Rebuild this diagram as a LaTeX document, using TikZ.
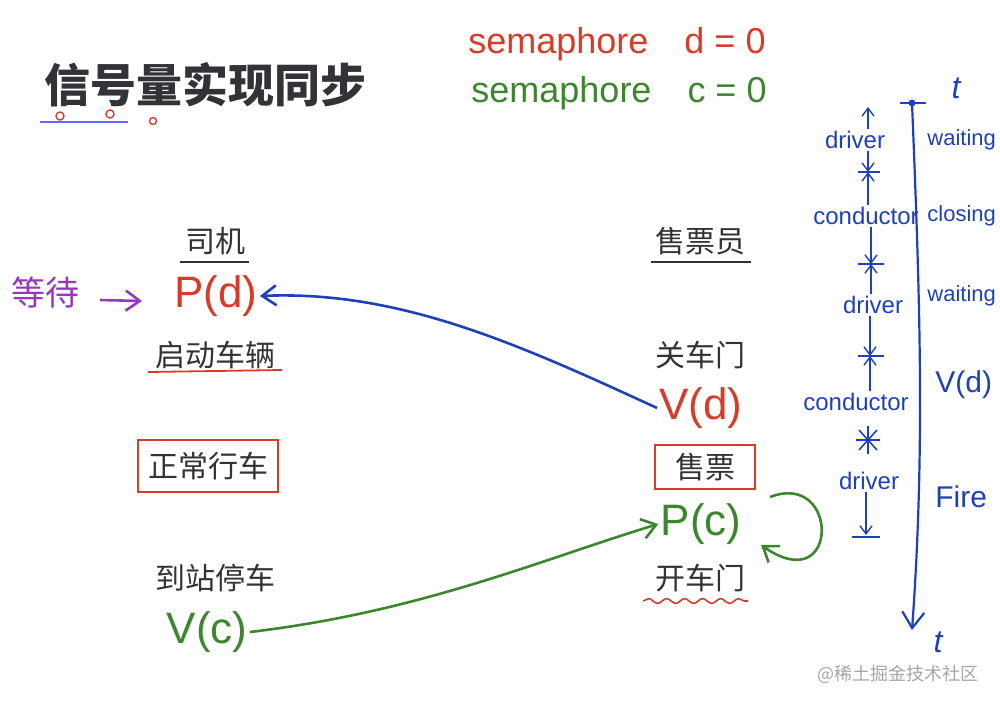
\documentclass[tikz,border=0pt]{standalone}
\usepackage{fontspec}
\setmainfont{Liberation Sans}
\newfontfamily\cjk{Noto Sans CJK SC}
\usetikzlibrary{positioning,arrows.meta,decorations.pathmorphing}

\definecolor{hred}{RGB}{215,60,40}
\definecolor{hgreen}{RGB}{60,135,45}
\definecolor{hblue}{RGB}{30,65,185}
\definecolor{hpurple}{RGB}{150,55,190}
\definecolor{ink}{RGB}{50,50,55}

\tikzset{
  cn/.style={font=\cjk\fontsize{15}{17}\selectfont, text=ink, inner sep=1pt},
  op/.style={font=\fontsize{22}{24}\selectfont, inner sep=1pt},
  sem/.style={font=\fontsize{18}{20}\selectfont, inner sep=1pt},
  tl/.style={font=\fontsize{12}{14}\selectfont, text=hblue, inner sep=1pt},
  tarrow/.style={hblue, line width=0.7pt, -{Straight Barb[length=4pt,width=6pt]}},
  tick/.style={hblue, line width=0.8pt},
  hand/.style={line width=1.3pt, -{Straight Barb[length=7pt,width=10pt]}},
}

\begin{document}
\begin{tikzpicture}[x=0.5pt,y=-0.5pt]
  \useasboundingbox (0,0) rectangle (1000,702);

  % title
  \node[font=\cjk\bfseries\fontsize{23}{26}\selectfont, text=ink] (title) at (205,85) {信号量实现同步};
  \draw[blue!60, line width=1pt] (40,122) -- (128,122);
  \draw[hred, line width=0.7pt] (60,116) circle (4) (110,114) circle (4) (153,121) circle (3.5);

  % semaphores
  \node[sem, text=hred] (semd) at (617,44) {semaphore\quad d = 0};
  \node[sem, text=hgreen] (semc) at (619,93) {semaphore\quad c = 0};

  % driver
  \node[cn] (driver) at (215,241) {司机};
  \draw[ink, line width=0.8pt] (180,262) -- (249,262);
  \node[op, text=hred] (pd) at (216,296) {P(d)};
  \node[font=\cjk\fontsize{17}{19}\selectfont, text=hpurple] (wait) at (45,292) {等待};
  \coordinate (w0) at (100,300);
  \coordinate (w1) at (142,301);
  \draw[hpurple, hand] (w0) -- (w1);
  \node[cn] (start) at (215,355) {启动车辆};
  \draw[hred, line width=0.9pt] (148,372) -- (282,370);
  \node[cn, draw=hred, line width=1.2pt, minimum width=70, minimum height=26] (drive) at (208,466) {正常行车};
  \node[cn] (stop) at (215,578) {到站停车};
  \node[op, text=hgreen] (vc) at (207,632) {V(c)};

  % conductor
  \node[cn] (seller) at (700,241) {售票员};
  \draw[ink, line width=0.8pt] (651,262) -- (751,262);
  \node[cn] (close) at (700,355) {关车门};
  \node[op, text=hred] (vd) at (701,408) {V(d)};
  \node[cn, draw=hred, line width=1.2pt, minimum width=50, minimum height=22] (sell) at (705,467) {售票};
  \node[op, text=hgreen] (pc) at (701,524) {P(c)};
  \node[cn] (open) at (700,578) {开车门};
  \draw[hred, line width=0.8pt, decorate, decoration={snake, amplitude=1.2, segment length=9}] (643,601) -- (748,601);

  % synchronisation arrows
  \draw[hblue, hand] (vd.west) .. controls (520,345) and (400,290) .. (pd.east);
  \draw[hgreen, hand] (vc.east) .. controls (420,612) and (540,560) .. (pc.west);
  \coordinate (l0) at (770,497);
  \coordinate (l1) at (761,545);
  \draw[hgreen, hand] (l0) .. controls (840,470) and (840,600) .. (l1);

  % timeline
  \coordinate (ttop) at (912,103);
  \coordinate (tbot) at (912,630);
  \draw[hblue, line width=1.1pt, -{Straight Barb[length=8pt,width=11pt]}] (ttop) .. controls (920,300) and (925,450) .. (tbot);
  \fill[hblue] (ttop) circle (3.5);
  \draw[tick] (900,103) -- (926,103);
  \node[font=\itshape\fontsize{16}{18}\selectfont, text=hblue] (t0) at (956,88) {t};
  \node[font=\itshape\fontsize{16}{18}\selectfont, text=hblue] (t1) at (938,642) {t};

  \node[tl] (d1) at (855,140) {driver};
  \node[tl] (c1) at (866,216) {conductor};
  \node[tl] (d2) at (873,305) {driver};
  \node[tl] (c2) at (856,402) {conductor};
  \node[tl] (d3) at (869,481) {driver};

  \coordinate (a0) at (868,107);
  \coordinate (k1) at (868,172);
  \coordinate (k2) at (871,264);
  \coordinate (k3) at (870,356);
  \coordinate (k4) at (866,535);
  \draw[tarrow] (d1.north -| a0) -- (a0);
  \draw[tarrow] (d1.south -| k1) -- (k1);
  \draw[tarrow] (c1.north -| k1) -- (k1);
  \draw[tick] (858,172) -- (880,172);
  \draw[tarrow] (c1.south -| k2) -- (k2);
  \draw[tarrow] (d2.north -| k2) -- (k2);
  \draw[tick] (858,264) -- (884,264);
  \draw[tarrow] (d2.south -| k3) -- (k3);
  \draw[tarrow] (c2.north -| k3) -- (k3);
  \draw[tick] (858,356) -- (884,356);
  \coordinate (star) at (868,440);
  \draw[tick] (star) ++(-12,0) -- ++(24,0) (star) ++(0,-14) -- ++(0,28)
        (star) ++(-9,-10) -- ++(18,20) (star) ++(-9,10) -- ++(18,-20);
  \draw[tarrow] (d3.south -| k4) -- (k4);
  \draw[tick] (852,537) -- (880,537);

  \node[tl, anchor=west, font=\fontsize{11}{13}\selectfont] (w1) at (925,140) {waiting};
  \node[tl, anchor=west, font=\fontsize{11}{13}\selectfont] (cl) at (925,216) {closing};
  \node[tl, anchor=west, font=\fontsize{11}{13}\selectfont] (w2) at (925,296) {waiting};
  \node[tl, anchor=west, font=\fontsize{15}{17}\selectfont] (vdl) at (933,385) {V(d)};
  \node[tl, anchor=west, font=\fontsize{15}{17}\selectfont] (fire) at (933,497) {Fire};

  % watermark
  \node[font=\cjk\fontsize{9}{11}\selectfont, text=black!35] (mark) at (898,674) {@稀土掘金技术社区};
\end{tikzpicture}
\end{document}
